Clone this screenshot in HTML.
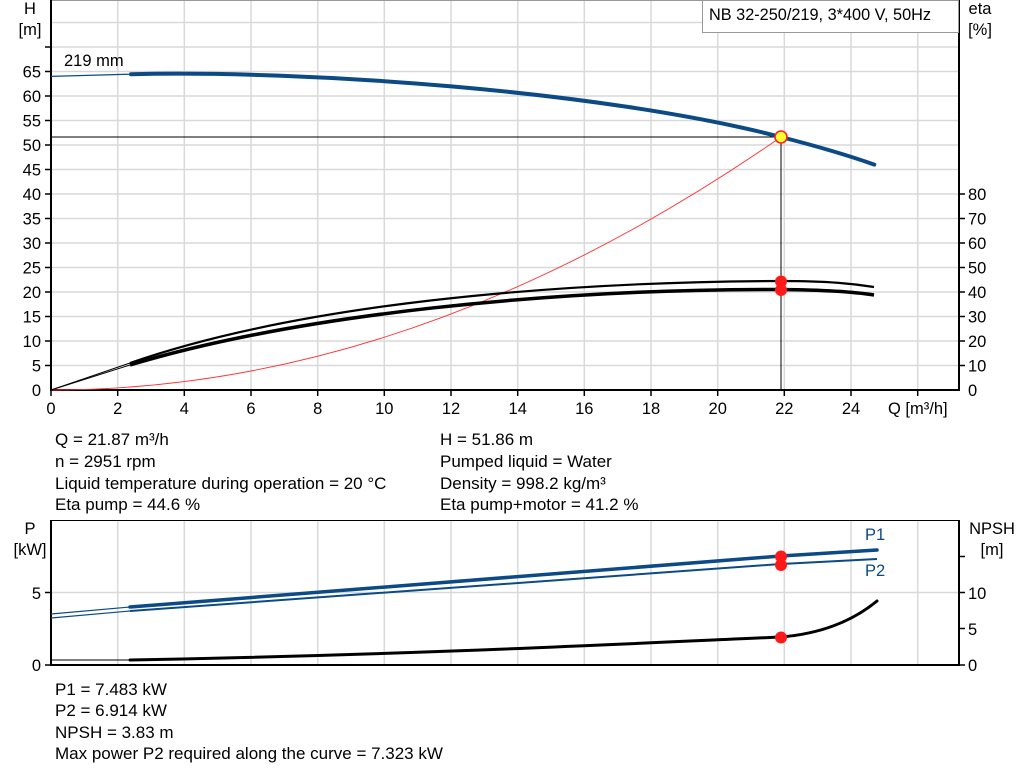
<!DOCTYPE html>
<html><head><meta charset="utf-8"><style>
html,body{margin:0;padding:0;background:#fff;}
svg{display:block;font-family:"Liberation Sans",Arial,sans-serif;}
</style></head><body>
<svg width="1024" height="781" viewBox="0 0 1024 781" xmlns="http://www.w3.org/2000/svg">
<rect width="1024" height="781" fill="#fff"/>
<g stroke="#d9d9d9" stroke-width="1.5">
<line x1="117.7" y1="0" x2="117.7" y2="390"/><line x1="184.3" y1="0" x2="184.3" y2="390"/>
<line x1="251" y1="0" x2="251" y2="390"/><line x1="317.7" y1="0" x2="317.7" y2="390"/>
<line x1="384.3" y1="0" x2="384.3" y2="390"/><line x1="451" y1="0" x2="451" y2="390"/>
<line x1="517.7" y1="0" x2="517.7" y2="390"/><line x1="584.3" y1="0" x2="584.3" y2="390"/>
<line x1="651" y1="0" x2="651" y2="390"/><line x1="717.7" y1="0" x2="717.7" y2="390"/>
<line x1="784.3" y1="0" x2="784.3" y2="390"/><line x1="851" y1="0" x2="851" y2="390"/>
<line x1="917.7" y1="0" x2="917.7" y2="390"/>
<line x1="51" y1="365.5" x2="959" y2="365.5"/><line x1="51" y1="341" x2="959" y2="341"/>
<line x1="51" y1="316.5" x2="959" y2="316.5"/><line x1="51" y1="292" x2="959" y2="292"/>
<line x1="51" y1="267.5" x2="959" y2="267.5"/><line x1="51" y1="243" x2="959" y2="243"/>
<line x1="51" y1="218.5" x2="959" y2="218.5"/><line x1="51" y1="194" x2="959" y2="194"/>
<line x1="51" y1="169.5" x2="959" y2="169.5"/><line x1="51" y1="145" x2="959" y2="145"/>
<line x1="51" y1="120.5" x2="959" y2="120.5"/><line x1="51" y1="96" x2="959" y2="96"/>
<line x1="51" y1="71.5" x2="959" y2="71.5"/><line x1="51" y1="47" x2="959" y2="47"/>
<line x1="51" y1="22.5" x2="959" y2="22.5"/>
</g>
<line x1="51" y1="0.5" x2="959" y2="0.5" stroke="#999" stroke-width="1"/>
<g stroke="#000" stroke-width="2">
<line x1="51" y1="0" x2="51" y2="391"/><line x1="959" y1="0" x2="959" y2="391"/>
<line x1="50" y1="390" x2="960" y2="390"/>
</g>
<g stroke="#000" stroke-width="1.5">
<line x1="45" y1="365.5" x2="51" y2="365.5"/><line x1="45" y1="341" x2="51" y2="341"/><line x1="45" y1="316.5" x2="51" y2="316.5"/><line x1="45" y1="292" x2="51" y2="292"/><line x1="45" y1="267.5" x2="51" y2="267.5"/><line x1="45" y1="243" x2="51" y2="243"/><line x1="45" y1="218.5" x2="51" y2="218.5"/><line x1="45" y1="194" x2="51" y2="194"/><line x1="45" y1="169.5" x2="51" y2="169.5"/><line x1="45" y1="145" x2="51" y2="145"/><line x1="45" y1="120.5" x2="51" y2="120.5"/><line x1="45" y1="96" x2="51" y2="96"/><line x1="45" y1="71.5" x2="51" y2="71.5"/><line x1="45" y1="47" x2="51" y2="47"/>
<line x1="959" y1="365.5" x2="965" y2="365.5"/><line x1="959" y1="341" x2="965" y2="341"/><line x1="959" y1="316.5" x2="965" y2="316.5"/><line x1="959" y1="292" x2="965" y2="292"/><line x1="959" y1="267.5" x2="965" y2="267.5"/><line x1="959" y1="243" x2="965" y2="243"/><line x1="959" y1="218.5" x2="965" y2="218.5"/><line x1="959" y1="194" x2="965" y2="194"/>
<line x1="51" y1="390" x2="51" y2="396"/><line x1="117.7" y1="390" x2="117.7" y2="396"/><line x1="184.3" y1="390" x2="184.3" y2="396"/><line x1="251" y1="390" x2="251" y2="396"/><line x1="317.7" y1="390" x2="317.7" y2="396"/><line x1="384.3" y1="390" x2="384.3" y2="396"/><line x1="451" y1="390" x2="451" y2="396"/><line x1="517.7" y1="390" x2="517.7" y2="396"/><line x1="584.3" y1="390" x2="584.3" y2="396"/><line x1="651" y1="390" x2="651" y2="396"/><line x1="717.7" y1="390" x2="717.7" y2="396"/><line x1="784.3" y1="390" x2="784.3" y2="396"/><line x1="851" y1="390" x2="851" y2="396"/><line x1="917.7" y1="390" x2="917.7" y2="396"/>
</g>
<g font-size="16.5" fill="#000">
<g text-anchor="end">
<text x="41" y="396">0</text><text x="41" y="371.5">5</text><text x="41" y="347">10</text><text x="41" y="322.5">15</text><text x="41" y="298">20</text><text x="41" y="273.5">25</text><text x="41" y="249">30</text><text x="41" y="224.5">35</text><text x="41" y="200">40</text><text x="41" y="175.5">45</text><text x="41" y="151">50</text><text x="41" y="126.5">55</text><text x="41" y="102">60</text><text x="41" y="77.5">65</text>
</g>
<text x="968" y="396">0</text><text x="968" y="371.5">10</text><text x="968" y="347">20</text><text x="968" y="322.5">30</text><text x="968" y="298">40</text><text x="968" y="273.5">50</text><text x="968" y="249">60</text><text x="968" y="224.5">70</text><text x="968" y="200">80</text>
<g text-anchor="middle">
<text x="51" y="414">0</text><text x="117.7" y="414">2</text><text x="184.3" y="414">4</text><text x="251" y="414">6</text><text x="317.7" y="414">8</text><text x="384.3" y="414">10</text><text x="451" y="414">12</text><text x="517.7" y="414">14</text><text x="584.3" y="414">16</text><text x="651" y="414">18</text><text x="717.7" y="414">20</text><text x="784.3" y="414">22</text><text x="851" y="414">24</text>
<text x="30" y="14">H</text><text x="30" y="35">[m]</text>
<text x="980" y="14">eta</text><text x="980" y="35">[%]</text>
</g>
<text x="888" y="414">Q [m³/h]</text>
<text x="64" y="66">219 mm</text>
</g>
<rect x="702.5" y="0.5" width="256" height="32" fill="#fff" stroke="#999"/>
<text x="709" y="20" font-size="16.3">NB 32-250/219, 3*400 V, 50Hz</text>
<line x1="51" y1="137" x2="781" y2="137" stroke="#000" stroke-width="1"/>
<line x1="781" y1="137" x2="781" y2="390" stroke="#000" stroke-width="1"/>
<path d="M51,390 Q416,390 781,137" fill="none" stroke="#ff3030" stroke-width="0.9"/>
<path d="M51,76.4 L131,74.2" fill="none" stroke="#0b4a85" stroke-width="1.2"/>
<path d="M131,74.2 C300,70 600,90 781,137 C820,147 850,156 874.3,164.6" fill="none" stroke="#0b4a85" stroke-width="4" stroke-linecap="round"/>
<path d="M51,390 L130,363" stroke="#000" stroke-width="1"/>
<path d="M51,390 L130,365" stroke="#000" stroke-width="1"/>
<path d="M130,363 C300,304 550,282 781,281 C830,281 855,284 874,287" fill="none" stroke="#000" stroke-width="2.2"/>
<path d="M130,365 C300,314 550,289 781,289.5 C830,290 855,292 874,295" fill="none" stroke="#000" stroke-width="3.5"/>
<circle cx="781" cy="281.5" r="6" fill="#ff1a1a"/>
<circle cx="781" cy="290" r="6" fill="#ff1a1a"/>
<circle cx="781" cy="137" r="6" fill="#ffff33" stroke="#ff2020" stroke-width="1.6"/>
<g font-size="17" fill="#000">
<text x="55" y="445">Q = 21.87 m³/h</text>
<text x="55" y="467">n = 2951 rpm</text>
<text x="55" y="489">Liquid temperature during operation = 20 °C</text>
<text x="55" y="510">Eta pump = 44.6 %</text>
<text x="440" y="445">H = 51.86 m</text>
<text x="440" y="467">Pumped liquid = Water</text>
<text x="440" y="489">Density = 998.2 kg/m³</text>
<text x="440" y="510">Eta pump+motor = 41.2 %</text>
</g>
<g stroke="#d9d9d9" stroke-width="1.5">
<line x1="117.7" y1="520" x2="117.7" y2="665"/><line x1="184.3" y1="520" x2="184.3" y2="665"/><line x1="251" y1="520" x2="251" y2="665"/><line x1="317.7" y1="520" x2="317.7" y2="665"/><line x1="384.3" y1="520" x2="384.3" y2="665"/><line x1="451" y1="520" x2="451" y2="665"/><line x1="517.7" y1="520" x2="517.7" y2="665"/><line x1="584.3" y1="520" x2="584.3" y2="665"/><line x1="651" y1="520" x2="651" y2="665"/><line x1="717.7" y1="520" x2="717.7" y2="665"/><line x1="784.3" y1="520" x2="784.3" y2="665"/><line x1="851" y1="520" x2="851" y2="665"/><line x1="917.7" y1="520" x2="917.7" y2="665"/>
<line x1="51" y1="592.5" x2="959" y2="592.5"/>
</g>
<line x1="51" y1="520.5" x2="959" y2="520.5" stroke="#000" stroke-width="1"/>
<g stroke="#000" stroke-width="2">
<line x1="51" y1="520" x2="51" y2="666"/><line x1="959" y1="520" x2="959" y2="666"/><line x1="50" y1="665" x2="960" y2="665"/>
</g>
<g stroke="#000" stroke-width="1.5">
<line x1="45" y1="592.5" x2="51" y2="592.5"/><line x1="45" y1="665" x2="51" y2="665"/>
<line x1="959" y1="665" x2="965" y2="665"/><line x1="959" y1="628.5" x2="965" y2="628.5"/><line x1="959" y1="592.5" x2="965" y2="592.5"/><line x1="959" y1="556.5" x2="965" y2="556.5"/>
</g>
<g font-size="16.5" fill="#000">
<text x="41" y="671" text-anchor="end">0</text><text x="41" y="599" text-anchor="end">5</text>
<text x="968" y="671">0</text><text x="968" y="635">5</text><text x="968" y="599">10</text>
<text x="30" y="534" text-anchor="middle">P</text><text x="30" y="555" text-anchor="middle">[kW]</text>
<text x="992" y="534" text-anchor="middle">NPSH</text><text x="992" y="555" text-anchor="middle">[m]</text>
</g>
<text x="865" y="540" font-size="16.5" fill="#0b4a85">P1</text>
<text x="865" y="576" font-size="16.5" fill="#0b4a85">P2</text>
<path d="M51,614 L130,607" stroke="#0b4a85" stroke-width="1.2"/>
<path d="M51,618 L130,611" stroke="#0b4a85" stroke-width="1.2"/>
<path d="M130,607 L781,556 L877,550" fill="none" stroke="#0b4a85" stroke-width="3.5" stroke-linecap="round"/>
<path d="M130,611 L781,564 L877,559" fill="none" stroke="#0b4a85" stroke-width="2"/>
<path d="M51,660 L130,660" stroke="#000" stroke-width="1"/>
<path d="M130,660 C400,655 600,645 781,637 C830,633 860,615 877,601" fill="none" stroke="#000" stroke-width="3" stroke-linecap="round"/>
<circle cx="781" cy="556.5" r="6" fill="#ff1a1a"/>
<circle cx="781" cy="565" r="6" fill="#ff1a1a"/>
<circle cx="781" cy="637.5" r="6" fill="#ff1a1a"/>
<g font-size="17" fill="#000">
<text x="55" y="695">P1 = 7.483 kW</text>
<text x="55" y="716">P2 = 6.914 kW</text>
<text x="55" y="738">NPSH = 3.83 m</text>
<text x="55" y="759">Max power P2 required along the curve = 7.323 kW</text>
</g>
</svg>
</body></html>
